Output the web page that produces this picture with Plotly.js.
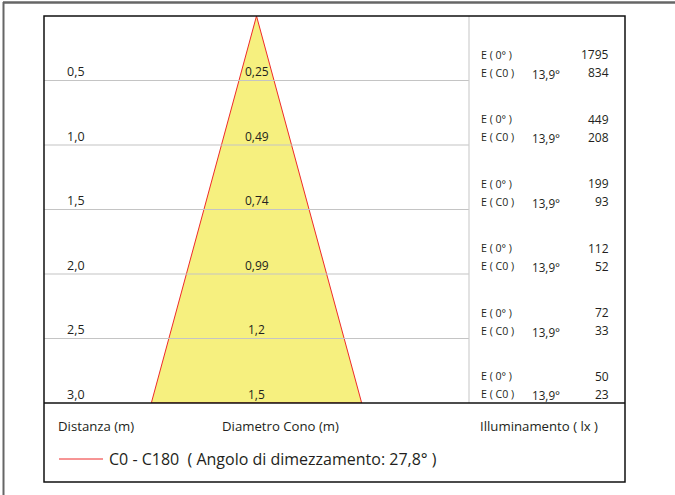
<!DOCTYPE html>
<html>
<head>
<meta charset="utf-8">
<script src="https://cdn.plot.ly/plotly-3.0.1.min.js"></script>
<style>html,body{margin:0;padding:0;background:#fff}#chart{width:675px;height:495px}</style>
</head>
<body>
<div id="chart"></div>
<script>
// ---- data ----
const distances = [0.5, 1.0, 1.5, 2.0, 2.5, 3.0];
const diameters = [0.25, 0.49, 0.74, 0.99, 1.2, 1.5];
const e0 = [1795, 449, 199, 112, 72, 50];
const eC0 = [834, 208, 93, 52, 33, 23];
const beamAngle = 27.8;      // angolo di dimezzamento
const halfAngle = 13.9;
const seriesName = 'C0 - C180';

const W = 675, H = 495;
const px = x => x / W;
const py = y => 1 - y / H;
const fmt = v => String(v).replace('.', ',');
const FONT = 'Open Sans, Noto Sans, sans-serif';
const TXT = '#231f20';
const f = s => ({family: FONT, size: s, color: TXT});

// cone edges from the half angle at the max distance
const maxD = distances[distances.length - 1];
const r = maxD * Math.tan(halfAngle * Math.PI / 180);
const cone = {
  x: [-r, 0, r, -r],
  y: [maxD, 0, maxD, maxD],
  type: 'scatter', mode: 'lines', fill: 'toself',
  fillcolor: '#f6f07f',
  line: {color: '#ee2a2a', width: 1},
  hoverinfo: 'skip', showlegend: false
};

const shapes = [];
distances.slice(0, -1).forEach(d => shapes.push({
  type: 'line', xref: 'x domain', yref: 'y', x0: 0, x1: 1, y0: d, y1: d,
  line: {color: '#c4c4c4', width: 1.2}, layer: 'above'
}));
shapes.push({type: 'line', xref: 'paper', yref: 'paper', x0: px(469), x1: px(469), y0: py(16), y1: py(403), line: {color: '#cfcfcf', width: 1.2}});
shapes.push({type: 'line', xref: 'paper', yref: 'paper', x0: px(44), x1: px(625), y0: py(403), y1: py(403), line: {color: '#111', width: 1.5}, layer: 'above'});
shapes.push({type: 'rect', xref: 'paper', yref: 'paper', x0: px(44), x1: px(625), y0: py(482), y1: py(16), line: {color: '#111', width: 1.5}, layer: 'above'});
shapes.push({type: 'line', xref: 'paper', yref: 'paper', x0: px(3), x1: px(675), y0: py(2.5), y1: py(2.5), line: {color: '#666', width: 2.5}});
shapes.push({type: 'line', xref: 'paper', yref: 'paper', x0: px(3.5), x1: px(3.5), y0: py(2), y1: py(495), line: {color: '#666', width: 2}});
shapes.push({type: 'line', xref: 'paper', yref: 'paper', x0: px(59), x1: px(103), y0: py(459), y1: py(459), line: {color: '#ee2a2a', width: 1}});

const ann = [];
const A = o => ann.push(Object.assign({showarrow: false, yanchor: 'middle', font: f(12)}, o));
distances.forEach((d, i) => {
  const up = i === distances.length - 1 ? 1 : 0;
  A({xref: 'paper', yref: 'y', x: px(65), y: d, yshift: 9, xanchor: 'left', text: d.toFixed(1).replace('.', ','), font: f(12.5)});
  A({xref: 'x', yref: 'y', x: 0, y: d, yshift: 9, xanchor: 'center', text: fmt(diameters[i])});
  A({xref: 'paper', yref: 'y', x: px(479), y: d, yshift: 26 + up, xanchor: 'left', text: 'E ( 0° )', font: f(10.6)});
  A({xref: 'paper', yref: 'y', x: px(479), y: d, yshift: 8 + up, xanchor: 'left', text: 'E ( C0 )', font: f(10.6)});
  A({xref: 'paper', yref: 'y', x: px(530), y: d, yshift: 7 + up, xanchor: 'left', text: fmt(halfAngle) + '°', font: f(11.7)});
  A({xref: 'paper', yref: 'y', x: px(611), y: d, yshift: 26 + up, xanchor: 'right', text: String(e0[i]), font: f(12)});
  A({xref: 'paper', yref: 'y', x: px(611), y: d, yshift: 8 + up, xanchor: 'right', text: String(eC0[i]), font: f(12)});
});
A({xref: 'paper', yref: 'paper', x: px(56), y: py(426), xanchor: 'left', text: 'Distanza (m)', font: f(13.2)});
A({xref: 'paper', yref: 'paper', x: px(220), y: py(426), xanchor: 'left', text: 'Diametro Cono (m)', font: f(13.2)});
A({xref: 'paper', yref: 'paper', x: px(478), y: py(426), xanchor: 'left', text: 'Illuminamento ( lx )', font: f(13.2)});
A({xref: 'paper', yref: 'paper', x: px(107), y: py(459), xanchor: 'left', text: seriesName + '  ( Angolo di dimezzamento: ' + fmt(beamAngle) + '° )', font: f(16)});

const layout = {
  width: W, height: H, autosize: false,
  margin: {l: 0, r: 0, t: 0, b: 0, pad: 0},
  paper_bgcolor: '#fff', plot_bgcolor: 'rgba(0,0,0,0)',
  showlegend: false,
  xaxis: {domain: [px(44), px(469)], range: [-1.5, 1.5], visible: false, fixedrange: true},
  yaxis: {domain: [py(403), py(16)], range: [3, 0], visible: false, fixedrange: true},
  shapes: shapes,
  annotations: ann
};
Plotly.newPlot('chart', [cone], layout, {staticPlot: true, displayModeBar: false});
</script>
</body>
</html>
